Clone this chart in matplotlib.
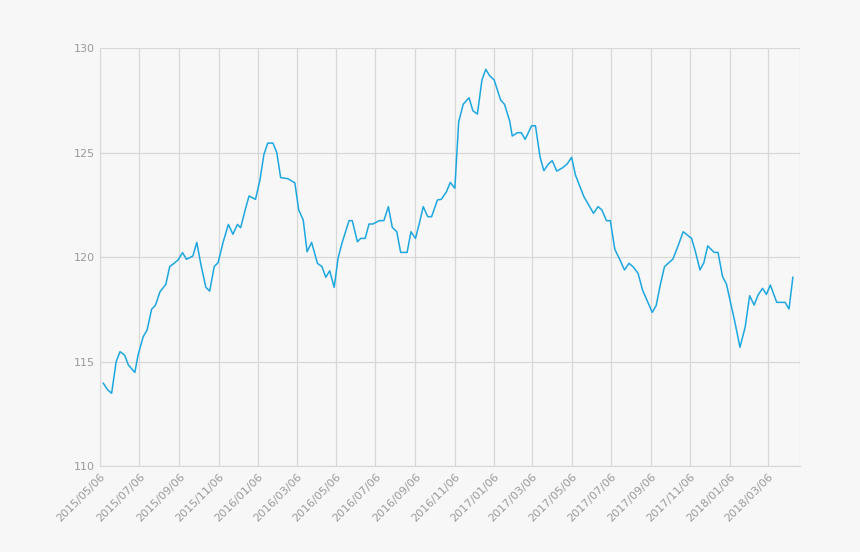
import matplotlib
matplotlib.use("Agg")
import matplotlib.pyplot as plt
import numpy as np
import pandas as pd

start = pd.Timestamp("2015-05-06")
day_offsets = [5,12,18,25,31,38,44,54,59,67,73,80,86,93,102,108,116,121,128,134,144,150,156,164,170,177,183,191,199,206,213,218,225,231,241,248,254,260,268,274,280,291,302,308,315,321,328,337,344,350,356,363,369,375,386,391,399,404,411,417,423,433,440,447,453,460,466,476,482,489,495,501,508,514,523,529,537,543,550,556,563,572,578,585,592,598,604,611,621,627,635,639,647,653,659,669,675,682,688,695,701,708,718,724,731,737,750,765,772,778,785,791,798,806,813,820,827,834,841,856,862,869,875,888,896,904,917,923,930,936,942,952,958,965,971,984,992,1000,1007,1014,1020,1027,1033,1039,1049,1062,1068,1074]
values = [113.96,113.64,113.48,114.99,115.47,115.31,114.83,114.48,115.31,116.19,116.51,117.50,117.70,118.34,118.69,119.54,119.73,119.86,120.21,119.89,120.05,120.70,119.70,118.55,118.37,119.54,119.73,120.73,121.56,121.09,121.56,121.40,122.25,122.92,122.76,123.7,124.9,125.45,125.45,125.0,123.8,123.75,123.55,122.25,121.77,120.25,120.70,119.70,119.54,119.03,119.34,118.55,119.94,120.66,121.74,121.74,120.73,120.89,120.89,121.58,121.58,121.74,121.74,122.41,121.42,121.21,120.22,120.22,121.21,120.89,121.61,122.41,121.93,121.93,122.73,122.76,123.12,123.57,123.29,126.47,127.31,127.62,127.0,126.84,128.47,128.98,128.67,128.47,127.51,127.31,126.51,125.79,125.95,125.95,125.63,126.28,126.28,124.80,124.13,124.45,124.61,124.11,124.29,124.45,124.77,123.92,122.89,122.09,122.41,122.25,121.74,121.74,120.37,119.86,119.38,119.70,119.51,119.22,118.42,117.35,117.67,118.74,119.54,119.90,120.53,121.21,120.89,120.25,119.38,119.73,120.53,120.22,120.22,119.06,118.71,116.90,115.68,116.64,118.15,117.70,118.18,118.50,118.21,118.66,117.83,117.83,117.51,119.03]
tick_labels = ["2015/05/06","2015/07/06","2015/09/06","2015/11/06","2016/01/06","2016/03/06",
               "2016/05/06","2016/07/06","2016/09/06","2016/11/06","2017/01/06","2017/03/06",
               "2017/05/06","2017/07/06","2017/09/06","2017/11/06","2018/01/06","2018/03/06"]
y_ticks = [110, 115, 120, 125, 130]

dates = start + pd.to_timedelta(day_offsets, unit="D")
tick_dates = pd.to_datetime(tick_labels, format="%Y/%m/%d")

bg = "#f7f7f7"
fig = plt.figure(figsize=(8.6, 5.52), dpi=100, facecolor=bg)
ax = fig.add_axes([0.1163, 0.1558, 0.8139, 0.7572], facecolor=bg)
ax.plot(dates, values, color="#1da7e0", lw=1.1)
ax.set_xlim(start, start + pd.Timedelta(days=1085))
ax.set_ylim(110, 130)
ax.set_xticks(tick_dates)
ax.set_xticklabels(tick_labels, rotation=45, ha="right", rotation_mode="anchor",
                   fontsize=8, color="#9a9a9a")
ax.set_yticks(y_ticks)
ax.set_yticklabels([str(v) for v in y_ticks], fontsize=8, color="#9a9a9a")
ax.grid(True, color="#d8d8d8", lw=0.9)
ax.tick_params(length=0, pad=4)
for s in ["top", "right"]:
    ax.spines[s].set_visible(False)
for s in ["left", "bottom"]:
    ax.spines[s].set_color("#d8d8d8")
ax.axvline(ax.get_xlim()[1], color="#d8d8d8", lw=0.9)
fig.savefig("out.png", dpi=100, facecolor=bg)
